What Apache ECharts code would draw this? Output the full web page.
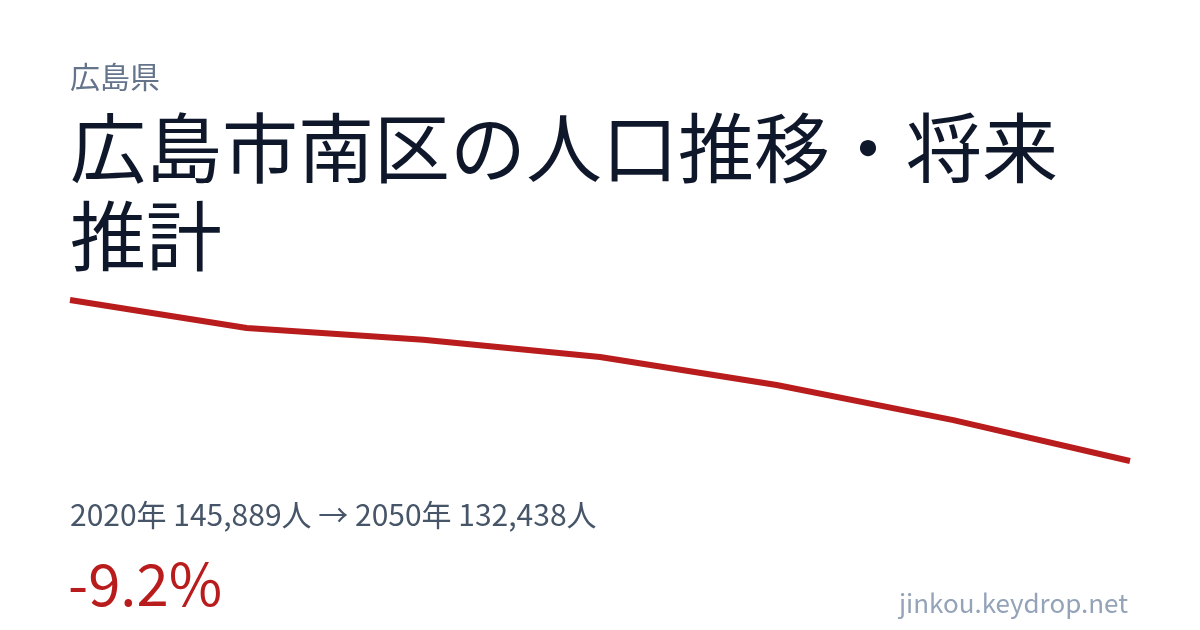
<!DOCTYPE html>
<html>
<head>
<meta charset="utf-8">
<script src="https://cdn.jsdelivr.net/npm/echarts@6/dist/echarts.min.js"></script>
<style>
  html, body { margin: 0; padding: 0; background: #fff; }
  #chart { width: 1200px; height: 630px; }
</style>
</head>
<body>
<div id="chart"></div>
<script>
var years      = ['2020', '2025', '2030', '2035', '2040', '2045', '2050'];
var population = [145889, 143550, 142560, 141130, 138790, 135850, 132438];

var prefName  = '広島県';
var titleText = '広島市南区の人口推移・将来\n推計';
var siteName  = 'jinkou.keydrop.net';

var first = population[0];
var last  = population[population.length - 1];
var change = ((last - first) / first * 100).toFixed(1) + '%';

function fmt(n) {
	return n.toLocaleString('en-US');
}

var font = '"Noto Sans CJK JP", "Noto Sans", sans-serif';

var chart = echarts.init(document.getElementById('chart'), null, { renderer: 'canvas' });
chart.setOption({
	backgroundColor: '#ffffff',
	animation: false,
	grid: {
		left: 70,
		right: 70,
		top: 300,
		bottom: 169
	},
	xAxis: {
		type: 'category',
		data: years,
		boundaryGap: false,
		show: false
	},
	yAxis: {
		type: 'value',
		min: 'dataMin',
		max: 'dataMax',
		show: false
	},
	series: [
		{
			type: 'line',
			data: population,
			symbol: 'none',
			lineStyle: {
				color: '#b91c1c',
				width: 6,
				cap: 'butt'
			}
		}
	],
	graphic: [
		{
			type: 'text',
			left: 70,
			top: 62,
			style: {
				text: prefName,
				font: '30px ' + font,
				fill: '#64748b'
			}
		},
		{
			type: 'text',
			left: 70,
			top: 104,
			style: {
				text: titleText,
				font: '76px ' + font,
				lineHeight: 88,
				fill: '#0f172a'
			}
		},
		{
			type: 'text',
			left: 70,
			top: 500,
			style: {
				text: years[0] + '年 ' + fmt(first) + '人 → ' + years[years.length - 1] + '年 ' + fmt(last) + '人',
				font: '30px ' + font,
				fill: '#475569'
			}
		},
		{
			type: 'text',
			left: 68,
			top: 555,
			style: {
				text: change,
				font: '58px ' + font,
				fill: '#b91c1c'
			}
		},
		{
			type: 'text',
			right: 72,
			top: 590,
			style: {
				text: siteName,
				font: '26px ' + font,
				fill: '#94a3b8'
			}
		}
	]
});
</script>
</body>
</html>
